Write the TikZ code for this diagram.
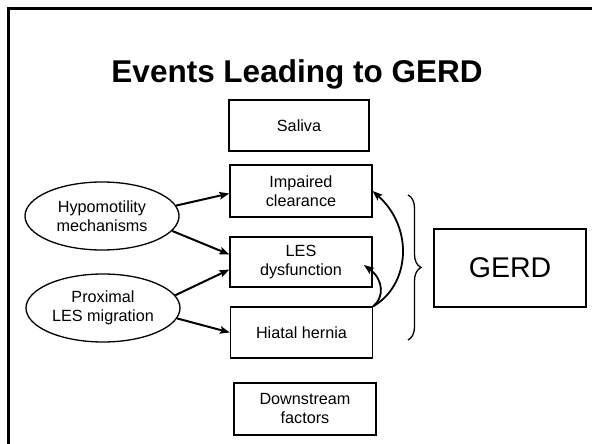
\documentclass[tikz,border=0pt]{standalone}
\usepackage{fontspec}
\setmainfont{Liberation Sans}
\usetikzlibrary{arrows.meta,shapes.geometric,decorations.pathreplacing}
\begin{document}
\begin{tikzpicture}[x=1pt,y=-1pt,
  box/.style={draw,line width=1.3pt,minimum width=142pt,minimum height=51pt,inner sep=0pt,align=center,font=\fontsize{16.2}{19}\selectfont},
  oval/.style={draw,ellipse,line width=1.3pt,minimum width=154pt,minimum height=68pt,inner sep=0pt,align=center,font=\fontsize{16.2}{19}\selectfont},
  arr/.style={line width=2pt,-{Stealth[length=10pt,width=7.5pt,inset=2pt]}},
  carr/.style={line width=1.8pt,-{Stealth[length=10pt,width=7.5pt,inset=2pt]}}]
\useasboundingbox (0,0) rectangle (592,444);
\draw[line width=3pt] (8,444) -- (8,9) -- (593,9);
\node[anchor=base,font=\fontsize{31.5}{34}\selectfont\bfseries] (title) at (297,82) {Events Leading to GERD};
\node[box,minimum width=140pt] (sal) at (299,125.5) {Saliva};
\node[box,minimum height=52pt] (imp) at (301,191) {Impaired\\clearance};
\node[box,minimum height=50pt] (les) at (301,262) {LES\\dysfunction};
\node[box] (hh) at (301.5,332.5) {Hiatal hernia};
\node[box,minimum height=52pt] (down) at (305,409) {Downstream\\factors};
\node[box,line width=1.5pt,minimum width=152pt,minimum height=78pt,font=\fontsize{28.5}{32}\selectfont] (gerd) at (510,268) {GERD};
\node[oval] (hypo) at (102,216) {Hypomotility\\mechanisms};
\node[oval] (prox) at (103,308) {Proximal\\LES migration};
\draw[arr] (hypo.8) -- (imp.182);
\draw[arr] (hypo.-12) -- (les.174);
\draw[arr] (prox.10) -- (les.186);
\draw[arr] (prox.-8) -- (hh.west);
\coordinate (lestip) at (364,265);
\draw[carr] (hh.north east) .. controls (410,285) and (414,228) .. (imp.east);
\draw[carr] (hh.north east) .. controls (384,298) and (384,280) .. (lestip);
\draw[line width=1.3pt,decorate,decoration={brace,amplitude=13pt,aspect=0.5}] (408,195) -- (408,340);
\end{tikzpicture}
\end{document}
